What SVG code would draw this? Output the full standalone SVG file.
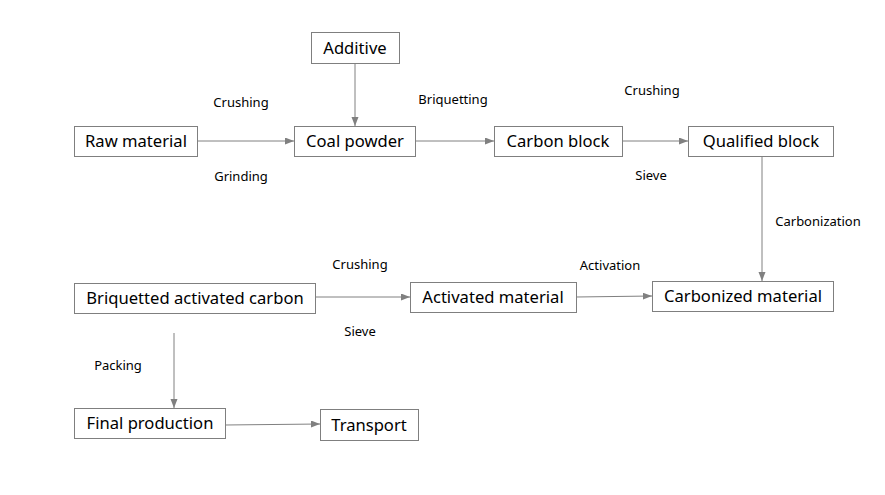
<svg xmlns="http://www.w3.org/2000/svg" width="885" height="495" viewBox="0 0 885 495">
<style>
.box{fill:#ffffff;stroke:#7f7f7f;stroke-width:1}
.t{font-family:"Noto Sans","Open Sans","Liberation Sans",sans-serif;font-size:16.6px;fill:#000;text-anchor:middle;dominant-baseline:central}
.l{font-family:"Noto Sans","Open Sans","Liberation Sans",sans-serif;font-size:13px;fill:#000;text-anchor:middle;dominant-baseline:central}
.c{stroke:#808080;stroke-width:1;fill:none;marker-end:url(#ah)}
</style>
<defs>
<marker id="ah" markerUnits="userSpaceOnUse" markerWidth="10" markerHeight="8" refX="9" refY="3.5" orient="auto">
<path d="M0,0 L9,3.5 L0,7 z" fill="#808080"/>
</marker>
</defs>
<rect width="885" height="495" fill="#ffffff"/>
<g id="connectors">
<line class="c" x1="197" y1="141" x2="294" y2="141"/>
<line class="c" x1="355" y1="63" x2="355" y2="126"/>
<line class="c" x1="415" y1="141" x2="494" y2="141"/>
<line class="c" x1="622" y1="141" x2="688" y2="141"/>
<line class="c" x1="762" y1="157" x2="762" y2="281"/>
<line class="c" x1="315" y1="297" x2="410" y2="297"/>
<line class="c" x1="576" y1="297" x2="652" y2="296"/>
<line class="c" x1="174" y1="333" x2="174" y2="408"/>
<line class="c" x1="225" y1="425" x2="320" y2="424"/>
</g>
<g id="labels">
<text class="l" x="241" y="102">Crushing</text>
<text class="l" x="241" y="176">Grinding</text>
<text class="l" x="453" y="99">Briquetting</text>
<text class="l" x="652" y="90">Crushing</text>
<text class="l" x="651" y="175">Sieve</text>
<text class="l" x="818" y="221">Carbonization</text>
<text class="l" x="360" y="264">Crushing</text>
<text class="l" x="360" y="331">Sieve</text>
<text class="l" x="610" y="265">Activation</text>
<text class="l" x="118" y="365">Packing</text>
</g>
<g id="additive"><rect class="box" x="311.5" y="32.5" width="88" height="31"/><text class="t" x="355" y="47">Additive</text></g>
<g id="raw-material"><rect class="box" x="74.5" y="126.5" width="123" height="30"/><text class="t" x="136" y="140.5">Raw material</text></g>
<g id="coal-powder"><rect class="box" x="294.5" y="126.5" width="121" height="30"/><text class="t" x="355" y="140.5">Coal powder</text></g>
<g id="carbon-block"><rect class="box" x="494.5" y="126.5" width="128" height="30"/><text class="t" x="558" y="140.5">Carbon block</text></g>
<g id="qualified-block"><rect class="box" x="688.5" y="126.5" width="145" height="30"/><text class="t" x="761" y="140.5">Qualified block</text></g>
<g id="carbonized-material"><rect class="box" x="652.5" y="281.5" width="181" height="30"/><text class="t" x="743" y="295.5">Carbonized material</text></g>
<g id="activated-material"><rect class="box" x="410.5" y="282.5" width="166" height="30"/><text class="t" x="493" y="296.5">Activated material</text></g>
<g id="briquetted-activated-carbon"><rect class="box" x="74.5" y="283.5" width="241" height="30"/><text class="t" x="195" y="297.5">Briquetted activated carbon</text></g>
<g id="final-production"><rect class="box" x="74.5" y="408.5" width="151" height="30"/><text class="t" x="150" y="422.5">Final production</text></g>
<g id="transport"><rect class="box" x="320.5" y="409.5" width="98" height="31"/><text class="t" x="369" y="424.5">Transport</text></g>
</svg>
